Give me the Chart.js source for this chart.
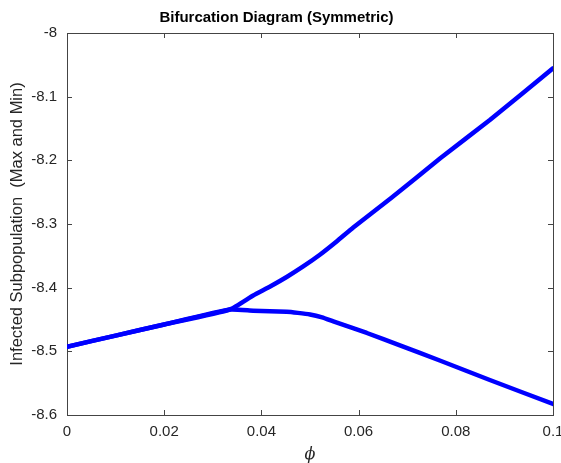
<!DOCTYPE html>
<html>
<head>
<meta charset="utf-8">
<script src="https://cdn.jsdelivr.net/npm/chart.js@4"></script>
<style>
  html, body { margin: 0; padding: 0; background: #fff; }
  canvas { display: block; }
</style>
</head>
<body>
<canvas id="grafico" width="561" height="463"></canvas>
<script>
// Dados
const upperPhi = [0, 0.01, 0.02, 0.0335, 0.0383, 0.0418, 0.0452, 0.0486, 0.0521, 0.0556, 0.0589, 0.0667, 0.0768, 0.087, 0.1];
const upperVal = [-8.4927, -8.4753, -8.4578, -8.4343, -8.4123, -8.3981, -8.3832, -8.3667, -8.3479, -8.3267, -8.3055, -8.2592, -8.1968, -8.1366, -8.0554];

const lowerPhi = [0, 0.01, 0.02, 0.0335, 0.0383, 0.0452, 0.0475, 0.05, 0.0525, 0.0548, 0.0617, 0.0685, 0.0767, 0.087, 0.1];
const lowerVal = [-8.4927, -8.4753, -8.4578, -8.4343, -8.4362, -8.4379, -8.4396, -8.4421, -8.4468, -8.4531, -8.4712, -8.4908, -8.5144, -8.545, -8.5827];

const xTickVals = [0, 0.02, 0.04, 0.06, 0.08, 0.1];
const xTickLabels = ["0", "0.02", "0.04", "0.06", "0.08", "0.1"];
const yTickVals = [-8.6, -8.5, -8.4, -8.3, -8.2, -8.1, -8];
const yTickLabels = ["-8.6", "-8.5", "-8.4", "-8.3", "-8.2", "-8.1", "-8"];

const toPoints = (xs, ys) => xs.map((x, i) => ({ x: x, y: ys[i] }));

const textColor = "#262626";
const axisColor = "#444";

// caixa e ticks para dentro, estilo MATLAB
const boxPlugin = {
  id: "box",
  beforeDatasetsDraw(chart) {
    const { ctx, chartArea: a, scales } = chart;
    ctx.save();
    ctx.strokeStyle = axisColor;
    ctx.lineWidth = 1;
    ctx.strokeRect(Math.round(a.left) + 0.5, Math.round(a.top) + 0.5,
      Math.round(a.right - a.left), Math.round(a.bottom - a.top));
    ctx.beginPath();
    const len = 5;
    xTickVals.forEach(v => {
      const px = Math.round(scales.x.getPixelForValue(v)) + 0.5;
      ctx.moveTo(px, a.bottom); ctx.lineTo(px, a.bottom - len);
      ctx.moveTo(px, a.top); ctx.lineTo(px, a.top + len);
    });
    yTickVals.forEach(v => {
      const py = Math.round(scales.y.getPixelForValue(v)) + 0.5;
      ctx.moveTo(a.left, py); ctx.lineTo(a.left + len, py);
      ctx.moveTo(a.right, py); ctx.lineTo(a.right - len, py);
    });
    ctx.stroke();
    ctx.restore();
  }
};

const lineStyle = {
  borderColor: "rgb(0, 0, 255)",
  backgroundColor: "rgb(0, 0, 255)",
  borderWidth: 4.5,
  pointRadius: 0,
  showLine: true,
  fill: false,
  tension: 0.15,
  borderJoinStyle: "round",
  borderCapStyle: "round",
};

const config = {
  type: "scatter",
  data: {
    datasets: [
      Object.assign({ label: "Max", data: toPoints(upperPhi, upperVal) }, lineStyle),
      Object.assign({ label: "Min", data: toPoints(lowerPhi, lowerVal) }, lineStyle),
    ],
  },
  options: {
    responsive: false,
    animation: false,
    layout: { padding: { left: 0, right: 8, top: 0, bottom: 0 } },
    plugins: {
      legend: { display: false },
      tooltip: { enabled: false },
      title: {
        display: true,
        text: "Bifurcation Diagram (Symmetric)",
        color: "#000",
        font: { family: "'Liberation Sans', Arial, sans-serif", size: 15, weight: "bold", lineHeight: 1.2 },
        padding: { top: 9, bottom: 6 },
      },
    },
    scales: {
      x: {
        type: "linear",
        min: 0,
        max: 0.1,
        grid: { display: false, drawTicks: false },
        border: { display: false },
        afterBuildTicks: s => { s.ticks = xTickVals.map(v => ({ value: v })); },
        afterFit: s => { s.height = 48; s.paddingLeft = 0; s.paddingRight = 0; },
        ticks: {
          padding: 8,
          color: textColor,
          maxRotation: 0,
          font: { family: "'Liberation Sans', Arial, sans-serif", size: 15 },
          callback: v => xTickLabels[xTickVals.findIndex(t => Math.abs(t - v) < 1e-9)],
        },
        title: {
          display: true,
          text: "ϕ",
          color: textColor,
          font: { family: "'DejaVu Serif', serif", size: 16, style: "italic", lineHeight: 1 },
          padding: { top: 0, bottom: 0 },
        },
      },
      y: {
        type: "linear",
        min: -8.6,
        max: -8,
        grid: { display: false, drawTicks: false },
        border: { display: false },
        afterBuildTicks: s => { s.ticks = yTickVals.map(v => ({ value: v })); },
        afterFit: s => { s.width = 67; s.paddingTop = 0; s.paddingBottom = 0; },
        ticks: {
          padding: 10,
          color: textColor,
          font: { family: "'Liberation Sans', Arial, sans-serif", size: 15 },
          callback: v => yTickLabels[yTickVals.findIndex(t => Math.abs(t - v) < 1e-9)],
        },
        title: {
          display: true,
          text: "Infected Subpopulation  (Max and Min)",
          color: textColor,
          font: { family: "'Liberation Sans', Arial, sans-serif", size: 16.5, lineHeight: 1 },
          padding: { top: 9, bottom: 0 },
        },
      },
    },
  },
  plugins: [boxPlugin],
};

const myChart = new Chart(document.getElementById("grafico"), config);
</script>
</body>
</html>
